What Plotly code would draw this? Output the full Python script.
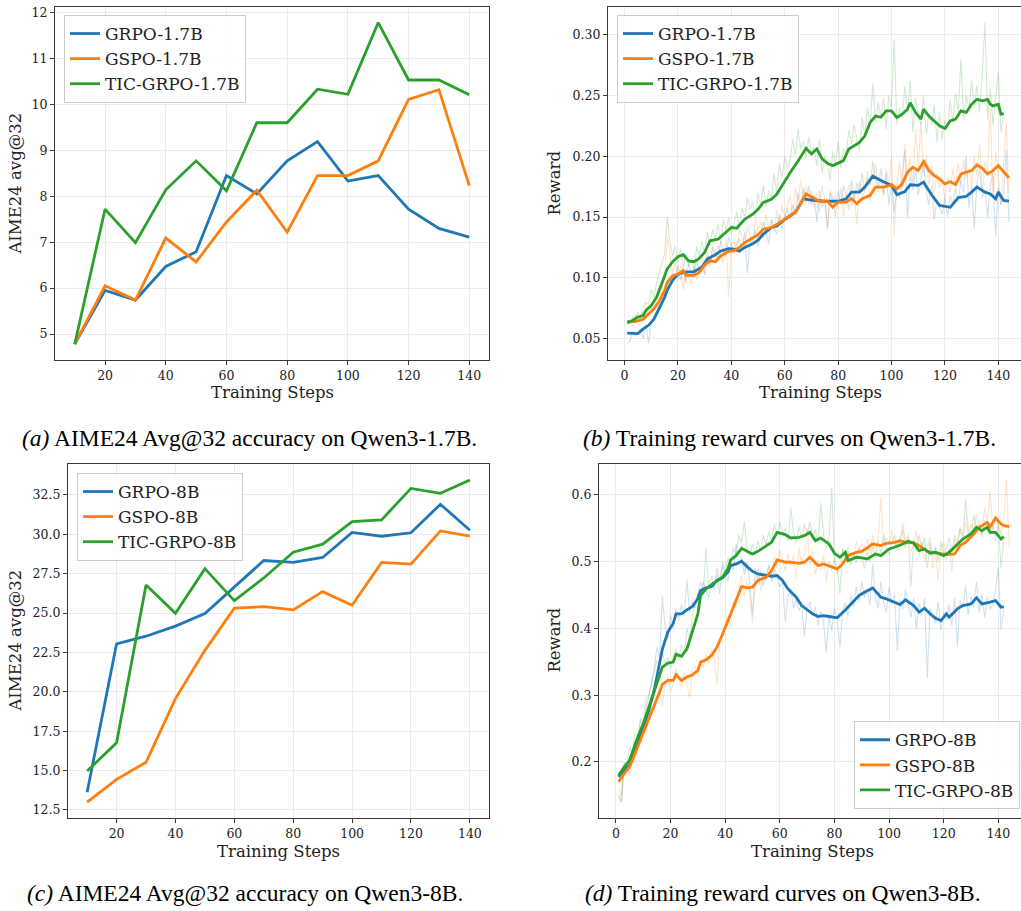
import plotly.graph_objects as go

# ---------------- Panel (a): AIME24 avg@32, Qwen3-1.7B ----------------
A_STEPS = [10, 20, 30, 40, 50, 60, 70, 80, 90, 100, 110, 120, 130, 140]
A_GRPO = [4.78, 5.95, 5.74, 6.47, 6.79, 8.45, 8.05, 8.77, 9.19, 8.33, 8.45, 7.72, 7.30, 7.11]
A_GSPO = [4.78, 6.05, 5.74, 7.09, 6.57, 7.44, 8.13, 7.22, 8.45, 8.45, 8.77, 10.11, 10.32, 8.23]
A_TIC = [4.78, 7.72, 6.99, 8.14, 8.77, 8.12, 9.60, 9.60, 10.33, 10.22, 11.78, 10.53, 10.53, 10.21]

# ---------------- Panel (c): AIME24 avg@32, Qwen3-8B ----------------
C_STEPS = [10, 20, 30, 40, 50, 60, 70, 80, 90, 100, 110, 120, 130, 140]
C_GRPO = [13.62, 23.05, 23.53, 24.17, 24.97, 26.64, 28.34, 28.22, 28.53, 30.12, 29.88, 30.10, 31.91, 30.26]
C_GSPO = [12.99, 14.44, 15.52, 19.57, 22.63, 25.31, 25.41, 25.20, 26.36, 25.50, 28.22, 28.11, 30.22, 29.88]
C_TIC = [14.97, 16.76, 26.78, 24.99, 27.82, 25.79, 27.23, 28.87, 29.38, 30.81, 30.92, 32.92, 32.61, 33.45]

# ---------------- Panel (b): reward, Qwen3-1.7B (raw per step) ----------------
B_GRPO_RAW = [
    0.046, 0.048, 0.056, 0.052, 0.055, 0.058, 0.050, 0.062, 0.046, 0.064,
    0.066, 0.072, 0.080, 0.088, 0.090, 0.098, 0.094, 0.104, 0.100, 0.110,
    0.098, 0.108, 0.096, 0.112, 0.104, 0.100, 0.114, 0.106, 0.110, 0.102,
    0.118, 0.112, 0.126, 0.120, 0.116, 0.130, 0.122, 0.118, 0.134, 0.126,
    0.120, 0.128, 0.132, 0.122, 0.138, 0.104, 0.130, 0.128, 0.140, 0.126,
    0.134, 0.146, 0.138, 0.128, 0.148, 0.142, 0.136, 0.152, 0.140, 0.150,
    0.156, 0.148, 0.160, 0.152, 0.170, 0.158, 0.174, 0.162, 0.176, 0.160,
    0.168, 0.146, 0.172, 0.158, 0.164, 0.140, 0.170, 0.166, 0.150, 0.172,
    0.160, 0.176, 0.168, 0.156, 0.180, 0.162, 0.178, 0.170, 0.186, 0.172,
    0.182, 0.176, 0.196, 0.180, 0.174, 0.190, 0.168, 0.186, 0.160, 0.178,
    0.154, 0.172, 0.166, 0.186, 0.205, 0.150, 0.184, 0.172, 0.190, 0.168,
    0.180, 0.196, 0.170, 0.160, 0.176, 0.148, 0.164, 0.158, 0.152, 0.166,
    0.150, 0.168, 0.160, 0.174, 0.162, 0.180, 0.170, 0.200, 0.158, 0.176,
    0.140, 0.178, 0.190, 0.166, 0.172, 0.150, 0.176, 0.186, 0.134, 0.174,
    0.160, 0.170, 0.206, 0.146]
B_GSPO_RAW = [
    0.062, 0.066, 0.060, 0.070, 0.064, 0.068, 0.072, 0.066, 0.076, 0.074,
    0.080, 0.086, 0.094, 0.090, 0.102, 0.134, 0.120, 0.104, 0.112, 0.098,
    0.110, 0.090, 0.108, 0.100, 0.094, 0.110, 0.098, 0.106, 0.116, 0.104,
    0.122, 0.110, 0.124, 0.114, 0.128, 0.118, 0.112, 0.132, 0.084, 0.128,
    0.130, 0.118, 0.140, 0.134, 0.126, 0.142, 0.136, 0.128, 0.150, 0.138,
    0.146, 0.132, 0.152, 0.140, 0.148, 0.138, 0.156, 0.144, 0.160, 0.150,
    0.158, 0.168, 0.150, 0.174, 0.162, 0.180, 0.166, 0.176, 0.160, 0.172,
    0.158, 0.170, 0.154, 0.176, 0.164, 0.142, 0.172, 0.160, 0.168, 0.156,
    0.174, 0.150, 0.166, 0.176, 0.158, 0.170, 0.144, 0.180, 0.166, 0.172,
    0.188, 0.162, 0.178, 0.194, 0.170, 0.182, 0.168, 0.190, 0.176, 0.200,
    0.134, 0.178, 0.196, 0.172, 0.210, 0.184, 0.198, 0.176, 0.222, 0.190,
    0.228, 0.186, 0.200, 0.176, 0.192, 0.168, 0.186, 0.174, 0.180, 0.164,
    0.182, 0.170, 0.190, 0.176, 0.194, 0.178, 0.198, 0.182, 0.190, 0.176,
    0.200, 0.184, 0.210, 0.170, 0.196, 0.188, 0.240, 0.166, 0.204, 0.186,
    0.160, 0.196, 0.228, 0.170]
B_TIC_RAW = [
    0.064, 0.062, 0.068, 0.066, 0.072, 0.068, 0.076, 0.080, 0.078, 0.090,
    0.084, 0.096, 0.104, 0.112, 0.120, 0.150, 0.130, 0.118, 0.126, 0.112,
    0.124, 0.108, 0.120, 0.110, 0.116, 0.104, 0.126, 0.118, 0.130, 0.120,
    0.138, 0.126, 0.140, 0.132, 0.144, 0.128, 0.148, 0.138, 0.150, 0.136,
    0.146, 0.154, 0.140, 0.158, 0.150, 0.166, 0.156, 0.162, 0.150, 0.170,
    0.160, 0.176, 0.158, 0.172, 0.164, 0.186, 0.170, 0.194, 0.182, 0.200,
    0.190, 0.196, 0.214, 0.200, 0.222, 0.206, 0.212, 0.198, 0.216, 0.202,
    0.208, 0.192, 0.214, 0.186, 0.200, 0.196, 0.180, 0.204, 0.194, 0.212,
    0.190, 0.206, 0.200, 0.222, 0.210, 0.226, 0.214, 0.204, 0.232, 0.218,
    0.240, 0.226, 0.260, 0.228, 0.244, 0.232, 0.248, 0.222, 0.250, 0.240,
    0.296, 0.226, 0.240, 0.232, 0.258, 0.236, 0.262, 0.220, 0.248, 0.234,
    0.226, 0.250, 0.218, 0.236, 0.226, 0.242, 0.212, 0.236, 0.214, 0.230,
    0.222, 0.246, 0.228, 0.252, 0.236, 0.280, 0.230, 0.250, 0.238, 0.262,
    0.240, 0.258, 0.236, 0.268, 0.310, 0.230, 0.256, 0.226, 0.248, 0.270,
    0.220, 0.236]

# Smoothed curves (panel b)
B_GRPO_S_STEPS = [1, 3, 5, 7, 9, 11, 13, 15, 16, 18, 20, 22, 24, 26, 29, 31, 34, 36, 39, 41, 43, 45, 48, 50,
                  52, 55, 57, 60, 64, 67, 70, 75, 80, 83, 85, 88, 90, 93, 96, 100, 102, 105, 107, 110, 112,
                  115, 118, 120, 122, 125, 128, 130, 132, 135, 137, 139, 140, 142, 144]
B_GRPO_S = [0.0546, 0.0545, 0.0542, 0.058, 0.061, 0.066, 0.0745, 0.084, 0.090, 0.098, 0.103, 0.1045, 0.105,
            0.105, 0.109, 0.1155, 0.119, 0.122, 0.124, 0.1236, 0.122, 0.125, 0.128, 0.131, 0.136, 0.1414,
            0.1427, 0.148, 0.154, 0.165, 0.164, 0.163, 0.163, 0.165, 0.1705, 0.1705, 0.1746, 0.1836, 0.180,
            0.176, 0.1683, 0.171, 0.1765, 0.176, 0.1787, 0.1683, 0.1596, 0.159, 0.158, 0.166, 0.167, 0.1705,
            0.1746, 0.1705, 0.169, 0.165, 0.1705, 0.1637, 0.163]
B_GSPO_S_STEPS = [1, 4, 7, 9, 11, 13, 15, 16, 18, 20, 22, 23, 26, 28, 30, 32, 34, 36, 39, 41, 43, 45, 48, 50,
                  52, 55, 57, 60, 64, 68, 70, 73, 76, 78, 80, 83, 85, 87, 89, 92, 94, 97, 100, 102, 104, 106,
                  108, 110, 112, 114, 116, 118, 120, 122, 124, 126, 128, 130, 132, 134, 136, 138, 140, 142, 144]
B_GSPO_S = [0.0642, 0.064, 0.066, 0.070, 0.0745, 0.081, 0.0896, 0.0964, 0.1018, 0.103, 0.106, 0.102, 0.102,
            0.1045, 0.1106, 0.114, 0.1133, 0.118, 0.1217, 0.1223, 0.125, 0.129, 0.133, 0.1354, 0.140, 0.1414,
            0.144, 0.148, 0.1537, 0.169, 0.1664, 0.163, 0.163, 0.158, 0.1623, 0.1623, 0.165, 0.161, 0.165,
            0.1678, 0.1746, 0.1746, 0.1765, 0.1732, 0.1773, 0.1869, 0.191, 0.1882, 0.1956, 0.1882, 0.1841,
            0.1814, 0.1773, 0.1792, 0.1765, 0.1855, 0.1869, 0.1882, 0.193, 0.190, 0.1855, 0.1882, 0.1923,
            0.1869, 0.1822]
B_TIC_S_STEPS = [1, 3, 5, 7, 8, 10, 12, 14, 16, 18, 20, 22, 24, 26, 28, 30, 32, 35, 38, 40, 42, 45, 48, 50,
                 52, 55, 57, 60, 62, 65, 68, 70, 72, 74, 76, 78, 80, 82, 84, 86, 88, 90, 92, 94, 96, 98, 100,
                 102, 104, 106, 107, 109, 111, 112, 114, 116, 118, 120, 122, 124, 126, 128, 130, 132, 134, 136,
                 137, 138, 140, 141, 142]
B_TIC_S = [0.0631, 0.065, 0.0677, 0.069, 0.0732, 0.0773, 0.084, 0.0964, 0.1073, 0.1133, 0.1174, 0.119, 0.114,
           0.1133, 0.116, 0.121, 0.1305, 0.1318, 0.1373, 0.1414, 0.1408, 0.1482, 0.1523, 0.1564, 0.162, 0.1646,
           0.1687, 0.1796, 0.1864, 0.196, 0.2065, 0.2019, 0.206, 0.1978, 0.1942, 0.1923, 0.1942, 0.1964, 0.206,
           0.2087, 0.2114, 0.2168, 0.2278, 0.233, 0.232, 0.2373, 0.2373, 0.2318, 0.2346, 0.2387, 0.244, 0.236,
           0.2305, 0.2387, 0.233, 0.229, 0.225, 0.2228, 0.229, 0.2305, 0.2373, 0.236, 0.2427, 0.2468, 0.2455,
           0.2468, 0.2427, 0.2414, 0.2427, 0.2346, 0.235]

# ---------------- Panel (d): reward, Qwen3-8B (raw per step) ----------------
D_GRPO_RAW = [
    0.150, 0.140, 0.196, 0.188, 0.206, 0.198, 0.230, 0.218, 0.262, 0.248,
    0.280, 0.296, 0.318, 0.340, 0.372, 0.356, 0.448, 0.402, 0.384, 0.420,
    0.400, 0.430, 0.412, 0.436, 0.418, 0.472, 0.424, 0.440, 0.430, 0.452,
    0.448, 0.470, 0.456, 0.446, 0.468, 0.458, 0.480, 0.452, 0.494, 0.476,
    0.470, 0.500, 0.488, 0.526, 0.494, 0.508, 0.480, 0.500, 0.466, 0.420,
    0.490, 0.472, 0.486, 0.464, 0.480, 0.494, 0.470, 0.488, 0.476, 0.462,
    0.470, 0.410, 0.448, 0.460, 0.430, 0.444, 0.426, 0.436, 0.388, 0.430,
    0.440, 0.418, 0.432, 0.404, 0.426, 0.410, 0.364, 0.420, 0.396, 0.430,
    0.412, 0.372, 0.426, 0.438, 0.418, 0.450, 0.432, 0.462, 0.440, 0.470,
    0.446, 0.458, 0.434, 0.496, 0.448, 0.430, 0.470, 0.440, 0.424, 0.462,
    0.436, 0.450, 0.366, 0.442, 0.428, 0.458, 0.434, 0.416, 0.446, 0.400,
    0.438, 0.420, 0.446, 0.326, 0.430, 0.418, 0.408, 0.440, 0.396, 0.424,
    0.412, 0.436, 0.404, 0.446, 0.372, 0.442, 0.430, 0.464, 0.420, 0.448,
    0.432, 0.470, 0.424, 0.452, 0.416, 0.446, 0.428, 0.436, 0.458, 0.492,
    0.398, 0.430]
D_GSPO_RAW = [
    0.150, 0.140, 0.186, 0.192, 0.178, 0.210, 0.200, 0.236, 0.226, 0.252,
    0.240, 0.268, 0.282, 0.276, 0.300, 0.310, 0.282, 0.316, 0.328, 0.304,
    0.318, 0.340, 0.326, 0.310, 0.334, 0.318, 0.294, 0.336, 0.344, 0.330,
    0.352, 0.340, 0.362, 0.346, 0.370, 0.352, 0.316, 0.380, 0.396, 0.410,
    0.420, 0.402, 0.440, 0.432, 0.456, 0.480, 0.448, 0.470, 0.452, 0.408,
    0.470, 0.490, 0.456, 0.486, 0.470, 0.496, 0.480, 0.510, 0.490, 0.518,
    0.500, 0.486, 0.512, 0.494, 0.508, 0.476, 0.520, 0.496, 0.512, 0.550,
    0.494, 0.516, 0.480, 0.502, 0.488, 0.510, 0.470, 0.500, 0.486, 0.504,
    0.480, 0.498, 0.518, 0.506, 0.522, 0.512, 0.500, 0.530, 0.516, 0.526,
    0.520, 0.534, 0.512, 0.540, 0.518, 0.530, 0.595, 0.520, 0.536, 0.528,
    0.546, 0.520, 0.532, 0.516, 0.558, 0.530, 0.540, 0.514, 0.526, 0.546,
    0.508, 0.530, 0.500, 0.522, 0.536, 0.490, 0.520, 0.470, 0.516, 0.530,
    0.502, 0.520, 0.486, 0.534, 0.520, 0.548, 0.530, 0.560, 0.540, 0.556,
    0.548, 0.570, 0.556, 0.540, 0.580, 0.560, 0.605, 0.546, 0.570, 0.556,
    0.540, 0.566, 0.622, 0.520]
D_TIC_RAW = [
    0.160, 0.150, 0.200, 0.194, 0.222, 0.214, 0.244, 0.238, 0.266, 0.258,
    0.292, 0.300, 0.318, 0.332, 0.352, 0.344, 0.364, 0.348, 0.356, 0.340,
    0.356, 0.370, 0.352, 0.376, 0.360, 0.400, 0.384, 0.420, 0.440, 0.452,
    0.470, 0.456, 0.520, 0.460, 0.478, 0.462, 0.490, 0.472, 0.500, 0.484,
    0.506, 0.496, 0.520, 0.510, 0.540, 0.528, 0.560, 0.520, 0.508, 0.526,
    0.510, 0.530, 0.516, 0.540, 0.524, 0.546, 0.530, 0.556, 0.540, 0.560,
    0.538, 0.550, 0.530, 0.580, 0.544, 0.528, 0.552, 0.536, 0.556, 0.540,
    0.560, 0.532, 0.548, 0.526, 0.588, 0.540, 0.520, 0.536, 0.610, 0.500,
    0.490, 0.452, 0.520, 0.500, 0.516, 0.494, 0.512, 0.498, 0.520, 0.506,
    0.490, 0.516, 0.500, 0.524, 0.506, 0.530, 0.512, 0.540, 0.520, 0.510,
    0.528, 0.540, 0.516, 0.534, 0.548, 0.520, 0.536, 0.462, 0.530, 0.514,
    0.540, 0.520, 0.536, 0.490, 0.528, 0.508, 0.522, 0.500, 0.530, 0.510,
    0.520, 0.536, 0.514, 0.540, 0.528, 0.552, 0.536, 0.594, 0.548, 0.540,
    0.570, 0.548, 0.556, 0.536, 0.562, 0.548, 0.540, 0.556, 0.530, 0.558,
    0.490, 0.534]

D_GRPO_S_STEPS = [1, 3, 5, 6, 8, 10, 12, 14, 16, 17, 19, 21, 22, 24, 26, 28, 30, 31, 33, 35, 37, 39, 41, 42,
                  44, 46, 48, 50, 52, 55, 57, 59, 61, 63, 66, 68, 70, 72, 74, 76, 78, 81, 84, 86, 89, 91, 94,
                  97, 99, 102, 104, 106, 109, 111, 113, 115, 117, 119, 121, 122, 125, 127, 130, 132, 134, 137,
                  139, 141, 142]
D_GRPO_S = [0.1776, 0.1885, 0.195, 0.205, 0.227, 0.252, 0.277, 0.307, 0.350, 0.369, 0.3943, 0.4077, 0.4217,
            0.4217, 0.4277, 0.4326, 0.444, 0.4566, 0.4606, 0.4626, 0.4716, 0.4756, 0.484, 0.494, 0.4964,
            0.5004, 0.4924, 0.4854, 0.4814, 0.479, 0.478, 0.479, 0.4716, 0.459, 0.4466, 0.434, 0.4277,
            0.4217, 0.4177, 0.419, 0.4177, 0.4157, 0.4276, 0.4366, 0.449, 0.454, 0.4605, 0.4466, 0.4441,
            0.4391, 0.4356, 0.4426, 0.4341, 0.4242, 0.4301, 0.4217, 0.4152, 0.4117, 0.4217, 0.4167, 0.4291,
            0.4341, 0.4366, 0.4456, 0.4366, 0.4391, 0.4416, 0.4316, 0.4326]
D_GSPO_S_STEPS = [1, 3, 5, 6, 8, 10, 12, 14, 16, 17, 19, 21, 22, 24, 26, 28, 30, 31, 33, 35, 37, 39, 41, 42,
                  44, 46, 48, 50, 52, 55, 57, 59, 62, 64, 67, 69, 71, 74, 76, 78, 81, 83, 85, 88, 90, 92, 94,
                  97, 99, 102, 104, 106, 109, 111, 114, 116, 119, 121, 124, 126, 128, 131, 133, 136, 137, 139,
                  141, 142, 144]
D_GSPO_S = [0.170, 0.1826, 0.1925, 0.2025, 0.2223, 0.2448, 0.2622, 0.2847, 0.3046, 0.3161, 0.322, 0.322,
            0.3305, 0.322, 0.327, 0.3305, 0.337, 0.3494, 0.353, 0.3594, 0.3718, 0.3908, 0.4117, 0.4192,
            0.4416, 0.4625, 0.4606, 0.4616, 0.4716, 0.4765, 0.4865, 0.5024, 0.499, 0.499, 0.4974, 0.499,
            0.5064, 0.4939, 0.4964, 0.4939, 0.489, 0.4964, 0.5088, 0.5138, 0.5153, 0.5203, 0.5263, 0.5238,
            0.5273, 0.5288, 0.5313, 0.5288, 0.5278, 0.5238, 0.5153, 0.5138, 0.5123, 0.5103, 0.5113, 0.5238,
            0.5288, 0.5412, 0.5512, 0.5587, 0.5522, 0.5651, 0.5562, 0.5537, 0.5522]
D_TIC_S_STEPS = [1, 3, 5, 6, 8, 10, 12, 14, 16, 17, 19, 21, 22, 24, 26, 28, 30, 31, 33, 35, 37, 39, 41, 42,
                 44, 46, 48, 50, 52, 55, 57, 59, 62, 64, 67, 69, 71, 73, 75, 78, 80, 82, 84, 85, 88, 90, 92,
                 95, 97, 100, 102, 105, 107, 109, 111, 113, 115, 117, 120, 122, 125, 127, 130, 132, 134, 136,
                 137, 139, 141, 142]
D_TIC_S = [0.180, 0.1925, 0.2025, 0.2149, 0.2373, 0.2573, 0.2822, 0.3071, 0.3295, 0.342, 0.348, 0.3495,
           0.361, 0.358, 0.3694, 0.3943, 0.4217, 0.4491, 0.459, 0.4655, 0.4716, 0.4765, 0.489, 0.5024,
           0.5088, 0.5198, 0.5153, 0.5113, 0.5153, 0.5238, 0.5288, 0.5437, 0.5402, 0.5352, 0.5362, 0.5387,
           0.5437, 0.5313, 0.5352, 0.5263, 0.5123, 0.5064, 0.5138, 0.5014, 0.5064, 0.5054, 0.5039, 0.5113,
           0.5088, 0.5188, 0.5213, 0.5263, 0.5303, 0.5273, 0.5163, 0.5188, 0.5123, 0.5138, 0.5088, 0.5138,
           0.5263, 0.5337, 0.5412, 0.5512, 0.5462, 0.5512, 0.5437, 0.5437, 0.5337, 0.5372]

A_LABELS = ["GRPO-1.7B", "GSPO-1.7B", "TIC-GRPO-1.7B"]
C_LABELS = ["GRPO-8B", "GSPO-8B", "TIC-GRPO-8B"]
COLORS = ["#1f77b4", "#ff7f0e", "#2ca02c"]
RAW_COLORS = ["rgba(31,119,180,0.22)", "rgba(255,127,14,0.22)", "rgba(44,160,44,0.22)"]
CAPTIONS = [
    "<i>(a)</i> AIME24 Avg@32 accuracy on Qwen3-1.7B.",
    "<i>(b)</i> Training reward curves on Qwen3-1.7B.",
    "<i>(c)</i> AIME24 Avg@32 accuracy on Qwen3-8B.",
    "<i>(d)</i> Training reward curves on Qwen3-8B.",
]

W, H = 1021, 911
SERIF = "DejaVu Serif"
LW = 2.8

fig = go.Figure()

def px_x(p):
    return p / W

def px_y(p):
    return 1 - p / H

# Panel a
for name, ys, col in zip(A_LABELS, [A_GRPO, A_GSPO, A_TIC], COLORS):
    fig.add_trace(go.Scatter(x=A_STEPS, y=ys, mode="lines", name=name, line=dict(color=col, width=LW),
                             xaxis="x", yaxis="y", legend="legend"))
# Panel b
for raw in zip([B_GRPO_RAW, B_GSPO_RAW, B_TIC_RAW], RAW_COLORS):
    fig.add_trace(go.Scatter(x=list(range(1, len(raw[0]) + 1)), y=raw[0], mode="lines",
                             line=dict(color=raw[1], width=1.1), showlegend=False, xaxis="x2", yaxis="y2"))
for name, st, ys, col in zip(A_LABELS, [B_GRPO_S_STEPS, B_GSPO_S_STEPS, B_TIC_S_STEPS],
                             [B_GRPO_S, B_GSPO_S, B_TIC_S], COLORS):
    fig.add_trace(go.Scatter(x=st, y=ys, mode="lines", name=name, line=dict(color=col, width=LW),
                             xaxis="x2", yaxis="y2", legend="legend2"))
# Panel c
for name, ys, col in zip(C_LABELS, [C_GRPO, C_GSPO, C_TIC], COLORS):
    fig.add_trace(go.Scatter(x=C_STEPS, y=ys, mode="lines", name=name, line=dict(color=col, width=LW),
                             xaxis="x3", yaxis="y3", legend="legend3"))
# Panel d
for raw in zip([D_GRPO_RAW, D_GSPO_RAW, D_TIC_RAW], RAW_COLORS):
    fig.add_trace(go.Scatter(x=list(range(1, len(raw[0]) + 1)), y=raw[0], mode="lines",
                             line=dict(color=raw[1], width=1.1), showlegend=False, xaxis="x4", yaxis="y4"))
for name, st, ys, col in zip(C_LABELS, [D_GRPO_S_STEPS, D_GSPO_S_STEPS, D_TIC_S_STEPS],
                             [D_GRPO_S, D_GSPO_S, D_TIC_S], COLORS):
    fig.add_trace(go.Scatter(x=st, y=ys, mode="lines", name=name, line=dict(color=col, width=LW),
                             xaxis="x4", yaxis="y4", legend="legend4"))

SPINE = "#3a3a3a"
GRID = "#ebebeb"
TICKF = dict(family=SERIF, size=12.5, color="#222222")

def xax(domain, rng, tickvals, anchor, mirror):
    return dict(domain=domain, range=rng, tickvals=tickvals, anchor=anchor, showline=True, linecolor=SPINE,
                linewidth=1.2, mirror=mirror, ticks="outside", ticklen=4, tickcolor=SPINE, showgrid=True,
                gridcolor=GRID, gridwidth=1, zeroline=False, tickfont=TICKF)

def yax(domain, rng, tickvals, fmt, anchor, mirror):
    return dict(domain=domain, range=rng, tickvals=tickvals, tickformat=fmt, anchor=anchor, showline=True,
                linecolor=SPINE, linewidth=1.2, mirror=mirror, ticks="outside", ticklen=4, tickcolor=SPINE,
                showgrid=True, gridcolor=GRID, gridwidth=1, zeroline=False, tickfont=TICKF)

top_dom = [px_y(359), px_y(5)]
bot_dom = [px_y(818), px_y(463)]

leg_common = dict(font=dict(family=SERIF, size=17, color="#222222"), bgcolor="rgba(255,255,255,0.85)",
                  bordercolor="#cccccc", borderwidth=1, xanchor="left", yanchor="top", tracegroupgap=0)

fig.update_layout(
    width=W, height=H, margin=dict(l=0, r=0, t=0, b=0), plot_bgcolor="white", paper_bgcolor="white",
    showlegend=True,
    xaxis=xax([px_x(55), px_x(489)], [3.5, 146.5], [20, 40, 60, 80, 100, 120, 140], "y", True),
    yaxis=yax(top_dom, [4.43, 12.12], [5, 6, 7, 8, 9, 10, 11, 12], "d", "x", True),
    xaxis2=xax([px_x(608), 1.0], [-6.2, 148.5], [0, 20, 40, 60, 80, 100, 120, 140], "y2", True),
    yaxis2=yax(top_dom, [0.0323, 0.3227], [0.05, 0.10, 0.15, 0.20, 0.25, 0.30], ".2f", "x2", False),
    xaxis3=xax([px_x(68), px_x(489)], [3.5, 146.5], [20, 40, 60, 80, 100, 120, 140], "y3", True),
    yaxis3=yax(bot_dom, [11.97, 34.47], [12.5, 15, 17.5, 20, 22.5, 25, 27.5, 30, 32.5], ".1f", "x3", True),
    xaxis4=xax([px_x(599), 1.0], [-6.2, 148.3], [0, 20, 40, 60, 80, 100, 120, 140], "y4", True),
    yaxis4=yax(bot_dom, [0.1158, 0.646], [0.2, 0.3, 0.4, 0.5, 0.6], ".1f", "x4", False),
    legend=dict(leg_common, x=px_x(64), y=px_y(13)),
    legend2=dict(leg_common, x=px_x(617), y=px_y(13)),
    legend3=dict(leg_common, x=px_x(77), y=px_y(472)),
    legend4=dict(leg_common, x=px_x(1020), y=px_y(809), xanchor="right", yanchor="bottom"),
)

annos = []
LABF = dict(family=SERIF, size=16.5, color="#222222")
# x axis titles
for cx, cy in [(272, 391), (820, 391), (278, 851), (812, 851)]:
    annos.append(dict(text="Training Steps", x=px_x(cx), y=px_y(cy), xref="paper", yref="paper",
                      showarrow=False, font=LABF, xanchor="center", yanchor="middle"))
# y axis titles
for txt, cx, cy in [("AIME24 avg@32", 16, 182), ("Reward", 555, 182), ("AIME24 avg@32", 16, 640),
                    ("Reward", 555, 640)]:
    annos.append(dict(text=txt, x=px_x(cx), y=px_y(cy), xref="paper", yref="paper", showarrow=False,
                      font=LABF, textangle=-90, xanchor="center", yanchor="middle"))
# captions
CAPF = dict(family="Liberation Serif", size=23.5, color="#000000")
for txt, cx, cy in zip(CAPTIONS, [249, 789, 245, 783], [437, 437, 893, 893]):
    annos.append(dict(text=txt, x=px_x(cx), y=px_y(cy), xref="paper", yref="paper", showarrow=False,
                      font=CAPF, xanchor="center", yanchor="middle"))
fig.update_layout(annotations=annos)

fig.write_html("out.html", config={"displayModeBar": False},
               post_script="document.body.style.margin='0';document.body.style.overflow='hidden';")
